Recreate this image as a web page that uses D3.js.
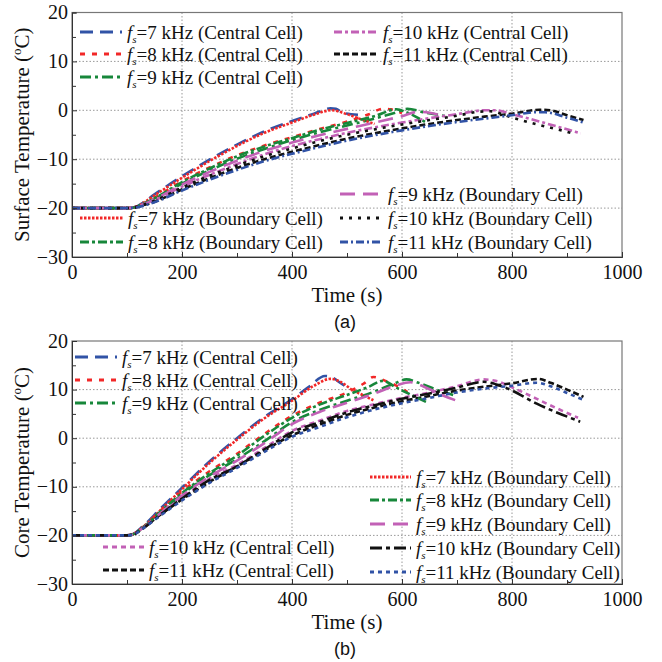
<!DOCTYPE html>
<html>
<head>
<meta charset="utf-8">
<script src="https://cdn.jsdelivr.net/npm/d3@7"></script>
<style>
  body { margin: 0; background: #fff; }
  svg { display: block; }
</style>
</head>
<body>
<div id="chart"></div>
<script>
// ---- data: [time (s), temperature (degC)] ----
var xTicks = [0, 200, 400, 600, 800, 1000];
var yTicks = [-30, -20, -10, 0, 10, 20];

var surf7c = [[0,-20],[100,-20],[115,-19.8],[130,-18.8],[150,-17.2],[200,-13.5],[250,-10.1],[300,-7.0],[350,-4.3],[400,-2.2],[440,-0.7],[470,0.4],[480,0.3],[492,-0.5],[520,-0.9]];
var surf8c = [[0,-20],[100,-20],[115,-19.8],[130,-19.1],[150,-17.9],[200,-14.5],[250,-11.7],[300,-9.2],[350,-7.2],[400,-5.5],[450,-3.8],[500,-2.3],[540,-0.8],[565,0.3],[580,0.2],[600,-0.6]];
var surf9c = [[0,-20],[100,-20],[115,-19.8],[130,-19.2],[150,-18.1],[200,-15.0],[250,-12.3],[300,-9.9],[350,-7.9],[400,-6.1],[450,-4.5],[500,-3.1],[550,-1.7],[590,-0.4],[610,0.3],[640,-0.4],[680,-1.2]];
var surf10c = [[0,-20],[100,-20],[115,-19.8],[130,-19.3],[150,-18.4],[200,-15.6],[250,-13.2],[300,-11.0],[350,-9.0],[400,-7.3],[450,-5.9],[500,-4.6],[550,-3.5],[600,-2.5],[650,-1.6],[700,-0.8],[750,0.0],[770,0.0],[800,-0.8],[850,-2.3],[900,-3.9],[925,-4.7]];
var surf11c = [[0,-20],[100,-20],[115,-19.9],[130,-19.4],[150,-18.7],[200,-16.2],[250,-13.9],[300,-11.8],[350,-10.0],[400,-8.5],[450,-7.1],[500,-5.8],[550,-4.7],[600,-3.7],[650,-2.8],[700,-2.0],[750,-1.3],[800,-0.7],[850,0.1],[870,0.0],[900,-1.0],[930,-2.0]];
var surf7b = [[0,-20],[100,-20],[115,-19.8],[130,-18.9],[150,-17.4],[200,-13.8],[250,-10.4],[300,-7.3],[350,-4.6],[400,-2.5],[440,-0.9],[472,0.0],[500,-0.8],[525,-1.8],[550,-2.8]];
var surf8b = [[0,-20],[100,-20],[115,-19.8],[130,-19.1],[150,-18.0],[200,-14.7],[250,-11.9],[300,-9.4],[350,-7.4],[400,-5.7],[450,-4.0],[500,-2.6],[550,-1.2],[590,0.2],[610,-0.5],[645,-2.6]];
var surf9b = [[0,-20],[100,-20],[115,-19.8],[130,-19.2],[150,-18.2],[200,-15.2],[250,-12.6],[300,-10.3],[350,-8.3],[400,-6.6],[450,-5.1],[500,-3.8],[550,-2.5],[600,-1.2],[630,-0.3],[650,-0.5],[680,-1.3]];
var surf10b = [[0,-20],[100,-20],[115,-19.8],[130,-19.3],[150,-18.5],[200,-15.8],[250,-13.4],[300,-11.3],[350,-9.4],[400,-7.8],[450,-6.3],[500,-5.0],[550,-3.9],[600,-2.9],[650,-2.0],[700,-1.1],[740,-0.3],[760,-0.2],[800,-1.5],[850,-3.0],[900,-4.4],[915,-4.9]];
var surf11b = [[0,-20],[100,-20],[115,-19.9],[130,-19.5],[150,-18.8],[200,-16.4],[250,-14.2],[300,-12.2],[350,-10.4],[400,-8.9],[450,-7.5],[500,-6.2],[550,-5.1],[600,-4.1],[650,-3.2],[700,-2.4],[750,-1.7],[800,-1.0],[845,-0.4],[860,-0.4],[900,-1.5],[930,-2.5]];

var core7c = [[0,-20],[100,-20],[110,-19.8],[130,-18.0],[160,-14.6],[200,-10.2],[250,-4.8],[300,0.0],[350,4.4],[400,8.0],[430,10.5],[460,12.8],[475,12.4],[490,11.2],[505,10.3]];
var core8c = [[0,-20],[100,-20],[110,-19.8],[130,-18.2],[160,-15.0],[200,-11.0],[250,-6.8],[300,-3.2],[350,0.9],[400,4.6],[450,7.3],[500,9.4],[530,11.2],[548,12.6],[570,11.8],[590,10.8],[610,9.5]];
var core9c = [[0,-20],[100,-20],[110,-19.8],[130,-18.3],[160,-15.4],[200,-11.6],[250,-7.6],[300,-4.3],[350,-0.6],[400,3.3],[450,5.8],[500,7.7],[550,9.6],[585,11.2],[608,12.1],[630,11.4],[660,10.1],[693,8.9]];
var core10c = [[0,-20],[100,-20],[110,-19.8],[130,-18.4],[160,-15.6],[200,-12.2],[250,-8.3],[300,-5.5],[350,-2.0],[400,1.5],[450,3.6],[500,5.6],[550,7.0],[600,8.3],[650,9.4],[700,10.7],[748,12.1],[770,11.8],[809,10.0],[869,6.8],[920,4.2]];
var core11c = [[0,-20],[100,-20],[110,-19.9],[130,-18.4],[160,-15.8],[200,-12.6],[250,-9.0],[300,-5.8],[350,-2.5],[400,0.6],[450,2.8],[500,4.8],[550,6.3],[600,7.6],[650,8.7],[700,9.8],[750,10.6],[800,11.3],[848,12.2],[870,11.4],[900,10.0],[930,8.5]];
var core7b = [[0,-20],[100,-20],[110,-19.8],[130,-18.2],[160,-14.9],[200,-10.5],[250,-5.1],[300,-0.3],[350,4.1],[400,7.7],[440,10.8],[470,12.2],[490,11.5],[510,9.9],[530,8.8],[548,7.8]];
var core8b = [[0,-20],[100,-20],[110,-19.8],[130,-18.3],[160,-15.2],[200,-11.3],[250,-7.2],[300,-3.6],[350,0.5],[400,4.2],[450,6.9],[500,8.9],[540,10.6],[565,11.8],[590,10.4],[615,9.0],[645,7.4]];
var core9b = [[0,-20],[100,-20],[110,-19.8],[130,-18.4],[160,-15.5],[200,-11.8],[250,-7.9],[300,-4.6],[350,-1.0],[400,2.9],[450,5.4],[500,7.3],[550,9.2],[590,10.9],[615,11.5],[640,10.6],[670,9.0],[705,7.5]];
var core10b = [[0,-20],[100,-20],[110,-19.8],[130,-18.5],[160,-15.8],[200,-12.4],[250,-8.6],[300,-5.8],[350,-2.3],[400,1.2],[450,3.3],[500,5.3],[550,6.8],[600,8.1],[650,9.2],[700,10.4],[748,11.6],[790,10.3],[845,7.1],[924,3.4]];
var core11b = [[0,-20],[100,-20],[110,-19.9],[130,-18.5],[160,-16.0],[200,-12.8],[250,-9.2],[300,-6.1],[350,-2.8],[400,0.3],[450,2.3],[500,4.3],[550,5.9],[600,7.2],[650,8.3],[700,9.4],[750,10.2],[800,10.8],[845,11.4],[870,10.7],[900,9.3],[930,7.9]];

var blue = '#3153a6', red = '#f22828', green = '#17873a', magenta = '#c261b6', black = '#111';

var W = 662, H = 662;
var svg = d3.select('#chart').append('svg').attr('width', W).attr('height', H);

var xScale = d3.scaleLinear().domain([0, 1000]).range([72, 622]);

var serif = '"Liberation Serif", "Times New Roman", serif';

function drawPanel(cfg) {
    var yScale = d3.scaleLinear().domain([-30, 20]).range([cfg.bottom, cfg.top]);
    var g = svg.append('g');
    var x0 = xScale.range()[0], x1 = xScale.range()[1];

    // grid
    g.append('g').selectAll('line').data(xTicks.slice(1, -1)).enter().append('line')
        .attr('x1', d => xScale(d)).attr('x2', d => xScale(d))
        .attr('y1', cfg.top).attr('y2', cfg.bottom)
        .attr('stroke', '#999').attr('stroke-width', 1).attr('stroke-dasharray', '1.5,2');
    g.append('g').selectAll('line').data(yTicks.slice(1, -1)).enter().append('line')
        .attr('y1', d => yScale(d)).attr('y2', d => yScale(d))
        .attr('x1', x0).attr('x2', x1)
        .attr('stroke', '#999').attr('stroke-width', 1).attr('stroke-dasharray', '1.5,2');

    // curves
    var line = d3.line().x(d => xScale(d[0])).y(d => yScale(d[1])).curve(d3.curveMonotoneX);
    cfg.series.forEach(function (s) {
        g.append('path').datum(s.data)
            .attr('d', line)
            .attr('fill', 'none')
            .attr('stroke', s.color)
            .attr('stroke-width', 2.6)
            .attr('stroke-dasharray', s.dash);
    });

    // frame
    g.append('rect').attr('x', x0).attr('y', cfg.top)
        .attr('width', x1 - x0).attr('height', cfg.bottom - cfg.top)
        .attr('fill', 'none').attr('stroke', '#777').attr('stroke-width', 1.2);

    // axes, ticks pointing inward
    var xAxis = d3.axisBottom(xScale).tickValues(xTicks).tickFormat(d3.format('d'))
        .tickSizeInner(-5).tickSizeOuter(0).tickPadding(8);
    var xMinor = d3.axisBottom(xScale).tickValues(d3.range(100, 1000, 200)).tickSize(-4).tickFormat('');
    var yAxis = d3.axisLeft(yScale).tickValues(yTicks).tickSizeInner(-5).tickSizeOuter(0).tickPadding(4);
    var yMinor = d3.axisLeft(yScale).tickValues(d3.range(-25, 20, 10)).tickSize(-4).tickFormat('');

    var gx = g.append('g').attr('transform', `translate(0,${cfg.bottom})`).call(xAxis);
    g.append('g').attr('transform', `translate(0,${cfg.bottom})`).call(xMinor);
    var gy = g.append('g').attr('transform', `translate(${x0},0)`).call(yAxis);
    g.append('g').attr('transform', `translate(${x0},0)`).call(yMinor);
    g.selectAll('.domain').attr('stroke', '#333');
    g.selectAll('.tick line').attr('stroke', '#333');
    gx.selectAll('text').attr('font-family', serif).attr('font-size', 20).attr('fill', '#111').attr('dy', '0.72em');
    gy.selectAll('text').attr('font-family', serif).attr('font-size', 20).attr('fill', '#111').attr('dy', '0.3em');

    // axis titles
    g.append('text').attr('x', 347).attr('y', cfg.bottom + 45)
        .attr('text-anchor', 'middle').attr('font-family', serif).attr('font-size', 21).attr('fill', '#111')
        .text('Time (s)');
    g.append('text').attr('x', 345).attr('y', cfg.bottom + 71)
        .attr('text-anchor', 'middle').attr('font-family', '"Liberation Sans", Arial, sans-serif')
        .attr('font-size', 18).attr('fill', '#111').text(cfg.tag);

    var yt = g.append('text')
        .attr('transform', `translate(29,${(cfg.top + cfg.bottom) / 2}) rotate(-90)`)
        .attr('text-anchor', 'middle').attr('font-family', serif).attr('font-size', 21).attr('fill', '#111');
    yt.append('tspan').text(cfg.ylabel + ' (');
    yt.append('tspan').attr('font-size', 13).attr('dy', -8).text('o');
    yt.append('tspan').attr('dy', 8).text('C)');

    // legend
    cfg.legend.forEach(function (e) {
        var s = e.s;
        g.append('line').attr('x1', e.lx0).attr('x2', e.lx1).attr('y1', e.y).attr('y2', e.y)
            .attr('stroke', s.color).attr('stroke-width', 3).attr('stroke-dasharray', s.dash);
        var t = g.append('text').attr('x', e.lx1 + 5).attr('y', e.y).attr('dy', '0.35em')
            .attr('font-family', serif).attr('font-size', 19).attr('fill', '#111');
        t.append('tspan').attr('font-style', 'italic').text('f');
        t.append('tspan').attr('font-style', 'italic').attr('font-size', 11).attr('dy', 4).text('s');
        t.append('tspan').attr('dy', -4).text('=' + s.khz + ' kHz (' + s.cell + ' Cell)');
    });
}

// ---- panel (a): surface temperature ----
var sA = {
    c7: {data: surf7c, color: blue, dash: '13,7', khz: 7, cell: 'Central'},
    c8: {data: surf8c, color: red, dash: '5,7', khz: 8, cell: 'Central'},
    c9: {data: surf9c, color: green, dash: '11,4,3,4', khz: 9, cell: 'Central'},
    c10: {data: surf10c, color: magenta, dash: '8,3,3,3', khz: 10, cell: 'Central'},
    c11: {data: surf11c, color: black, dash: '6,3', khz: 11, cell: 'Central'},
    b7: {data: surf7b, color: red, dash: '2.5,1.5', khz: 7, cell: 'Boundary'},
    b8: {data: surf8b, color: green, dash: '9,3,3,3', khz: 8, cell: 'Boundary'},
    b9: {data: surf9b, color: magenta, dash: '15,8', khz: 9, cell: 'Boundary'},
    b10: {data: surf10b, color: black, dash: '3,6', khz: 10, cell: 'Boundary'},
    b11: {data: surf11b, color: blue, dash: '8,3,2,3', khz: 11, cell: 'Boundary'}
};
drawPanel({
    top: 12.5, bottom: 257, tag: '(a)', ylabel: 'Surface Temperature',
    series: [sA.c7, sA.c8, sA.c9, sA.c10, sA.c11, sA.b7, sA.b8, sA.b9, sA.b10, sA.b11],
    legend: [
        {s: sA.c7, lx0: 80, lx1: 122, y: 32},
        {s: sA.c8, lx0: 80, lx1: 122, y: 54},
        {s: sA.c9, lx0: 80, lx1: 122, y: 77},
        {s: sA.c10, lx0: 334, lx1: 378, y: 32},
        {s: sA.c11, lx0: 334, lx1: 378, y: 54},
        {s: sA.b7, lx0: 80, lx1: 123, y: 218},
        {s: sA.b8, lx0: 80, lx1: 123, y: 242},
        {s: sA.b9, lx0: 340, lx1: 383, y: 194},
        {s: sA.b10, lx0: 340, lx1: 383, y: 218},
        {s: sA.b11, lx0: 340, lx1: 383, y: 242}
    ]
});

// ---- panel (b): core temperature ----
var sB = {
    c7: {data: core7c, color: blue, dash: '13,7', khz: 7, cell: 'Central'},
    c8: {data: core8c, color: red, dash: '5,7', khz: 8, cell: 'Central'},
    c9: {data: core9c, color: green, dash: '11,4,3,4', khz: 9, cell: 'Central'},
    c10: {data: core10c, color: magenta, dash: '5,4', khz: 10, cell: 'Central'},
    c11: {data: core11c, color: black, dash: '6,3', khz: 11, cell: 'Central'},
    b7: {data: core7b, color: red, dash: '2.5,1.5', khz: 7, cell: 'Boundary'},
    b8: {data: core8b, color: green, dash: '9,3,3,3', khz: 8, cell: 'Boundary'},
    b9: {data: core9b, color: magenta, dash: '15,8', khz: 9, cell: 'Boundary'},
    b10: {data: core10b, color: black, dash: '12,4,4,4', khz: 10, cell: 'Boundary'},
    b11: {data: core11b, color: blue, dash: '4,4', khz: 11, cell: 'Boundary'}
};
drawPanel({
    top: 341, bottom: 584, tag: '(b)', ylabel: 'Core Temperature',
    series: [sB.c7, sB.c8, sB.c9, sB.c10, sB.c11, sB.b7, sB.b8, sB.b9, sB.b10, sB.b11],
    legend: [
        {s: sB.c7, lx0: 75, lx1: 117, y: 357},
        {s: sB.c8, lx0: 75, lx1: 117, y: 380},
        {s: sB.c9, lx0: 75, lx1: 117, y: 403},
        {s: sB.c10, lx0: 103, lx1: 144, y: 547},
        {s: sB.c11, lx0: 103, lx1: 144, y: 570},
        {s: sB.b7, lx0: 370, lx1: 411, y: 477},
        {s: sB.b8, lx0: 370, lx1: 411, y: 500},
        {s: sB.b9, lx0: 370, lx1: 411, y: 524},
        {s: sB.b10, lx0: 370, lx1: 411, y: 548},
        {s: sB.b11, lx0: 370, lx1: 411, y: 572}
    ]
});
</script>
</body>
</html>
